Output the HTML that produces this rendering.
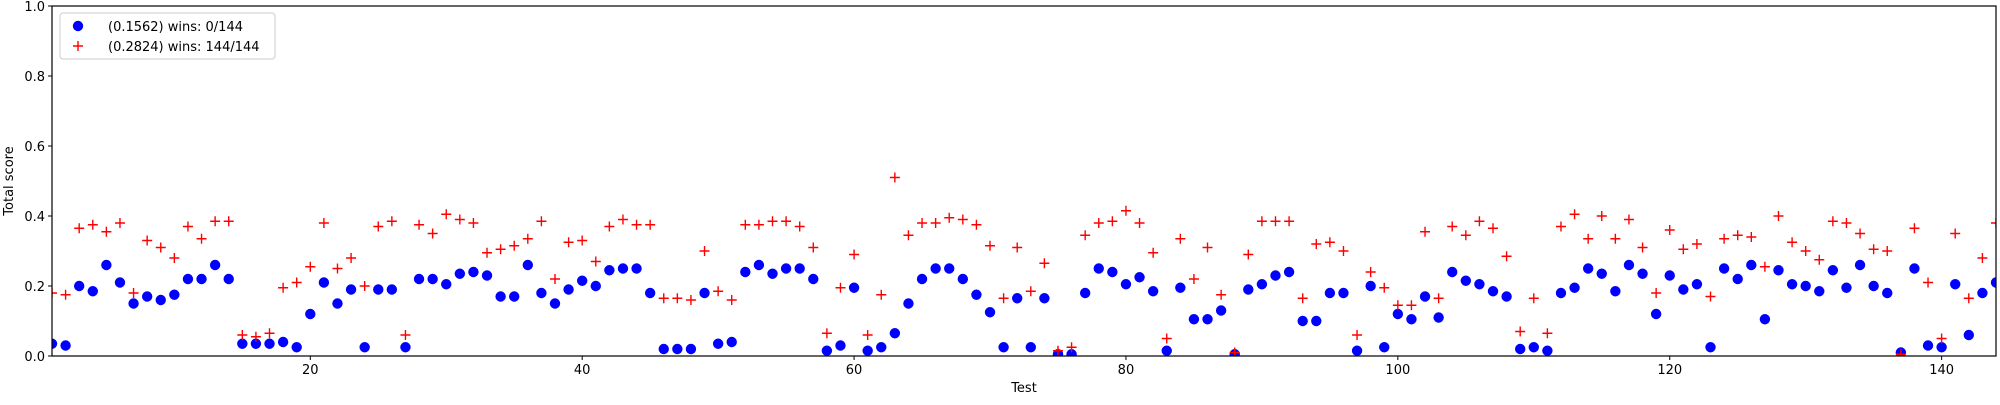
<!DOCTYPE html>
<html><head><meta charset="utf-8"><style>
body{margin:0;background:#fff;}
svg text{font-family:"DejaVu Sans","Liberation Sans",sans-serif;font-size:13px;fill:#000;}
</style></head><body>
<svg id="chart" width="2000" height="400" xmlns="http://www.w3.org/2000/svg">
<g id="marks"></g>
<g id="axes"></g>
</svg>
<script>
const blueVals=[.035,.03,.20,.185,.26,.21,.15,.17,.16,.175,.22,.22,.26,.22,.035,.035,.035,.04,.025,.12,.21,.15,.19,.025,.19,.19,.025,.22,.22,.205,.235,.24,.23,.17,.17,.26,.18,.15,.19,.215,.20,.245,.25,.25,.18,.02,.02,.02,.18,.035,.04,.24,.26,.235,.25,.25,.22,.015,.03,.195,.015,.025,.065,.15,.22,.25,.25,.22,.175,.125,.025,.165,.025,.165,.005,.005,.18,.25,.24,.205,.225,.185,.015,.195,.105,.105,.13,.005,.19,.205,.23,.24,.10,.10,.18,.18,.015,.20,.025,.12,.105,.17,.11,.24,.215,.205,.185,.17,.02,.025,.015,.18,.195,.25,.235,.185,.26,.235,.12,.23,.19,.205,.025,.25,.22,.26,.105,.245,.205,.20,.185,.245,.195,.26,.20,.18,.01,.25,.03,.025,.205,.06,.18,.21];
const redVals=[.18,.175,.365,.375,.355,.38,.18,.33,.31,.28,.37,.335,.385,.385,.06,.055,.065,.195,.21,.255,.38,.25,.28,.20,.37,.385,.06,.375,.35,.405,.39,.38,.295,.305,.315,.335,.385,.22,.325,.33,.27,.37,.39,.375,.375,.165,.165,.16,.30,.185,.16,.375,.375,.385,.385,.37,.31,.065,.195,.29,.06,.175,.51,.345,.38,.38,.395,.39,.375,.315,.165,.31,.185,.265,.015,.025,.345,.38,.385,.415,.38,.295,.05,.335,.22,.31,.175,.01,.29,.385,.385,.385,.165,.32,.325,.30,.06,.24,.195,.145,.145,.355,.165,.37,.345,.385,.365,.285,.07,.165,.065,.37,.405,.335,.40,.335,.39,.31,.18,.36,.305,.32,.17,.335,.345,.34,.255,.40,.325,.30,.275,.385,.38,.35,.305,.30,.005,.365,.21,.05,.35,.165,.28,.38];
const xTicks=[20,40,60,80,100,120,140];
const yTicks=[0,0.2,0.4,0.6,0.8,1.0];
const yTickLabels=["0.0","0.2","0.4","0.6","0.8","1.0"];
const L=52,R=1996,T=6,B=356;
const sx=v=>L+(v-1)*(R-L)/143;
const sy=v=>B-v*(B-T);
const NS="http://www.w3.org/2000/svg";
function mk(tag,attrs,parent){const e=document.createElementNS(NS,tag);for(const k in attrs)e.setAttribute(k,attrs[k]);parent.appendChild(e);return e;}
const svg=document.getElementById('chart');
const marks=document.getElementById('marks');
const axes=document.getElementById('axes');
const clip=mk('clipPath',{id:'pc'},svg);mk('rect',{x:L,y:T,width:R-L,height:B-T},clip);
marks.setAttribute('clip-path','url(#pc)');
blueVals.forEach((v,i)=>{
  const c=mk('circle',{cx:sx(i+1),cy:sy(v),r:5.2,fill:'#0000ff'},marks);
  
  
});
redVals.forEach((v,i)=>{
  const x=sx(i+1),y=sy(v);
  const p=mk('path',{d:`M${x-5},${y}H${x+5}M${x},${y-5}V${y+5}`,stroke:'#ff0000','stroke-width':1.4,fill:'none'},marks);
  
  
});
const frame=mk('rect',{x:L,y:T,width:R-L,height:B-T,fill:'none',stroke:'#000','stroke-width':1.2},axes);


xTicks.forEach(t=>{
  mk('line',{x1:sx(t),x2:sx(t),y1:B,y2:B+4,stroke:'#000'},axes);
  const tx=mk('text',{x:sx(t),y:B+18,'text-anchor':'middle'},axes);tx.textContent=t;
  
  
});
yTicks.forEach((t,i)=>{
  mk('line',{x1:L-4,x2:L,y1:sy(t),y2:sy(t),stroke:'#000'},axes);
  const tx=mk('text',{x:L-7,y:sy(t)+5,'text-anchor':'end'},axes);tx.textContent=yTickLabels[i];
  
  
});
const xt=mk('text',{x:(L+R)/2,y:392,'text-anchor':'middle'},axes);xt.textContent='Test';


const yt=mk('text',{x:0,y:0,'text-anchor':'middle',transform:`translate(13,${(T+B)/2}) rotate(-90)`},axes);yt.textContent='Total score';


const lg=mk('g',{},axes);


mk('rect',{x:60,y:13,width:215,height:46,rx:3,fill:'#fff','fill-opacity':0.8,stroke:'#ccc'},lg);
mk('circle',{cx:78,cy:26,r:5.2,fill:'#0000ff'},lg);
mk('path',{d:'M73,46H83M78,41V51',stroke:'#ff0000','stroke-width':1.4},lg);
const l1=mk('text',{x:108,y:31},lg);l1.textContent='(0.1562) wins: 0/144';


const l2=mk('text',{x:108,y:51},lg);l2.textContent='(0.2824) wins: 144/144';


</script>
</body></html>
